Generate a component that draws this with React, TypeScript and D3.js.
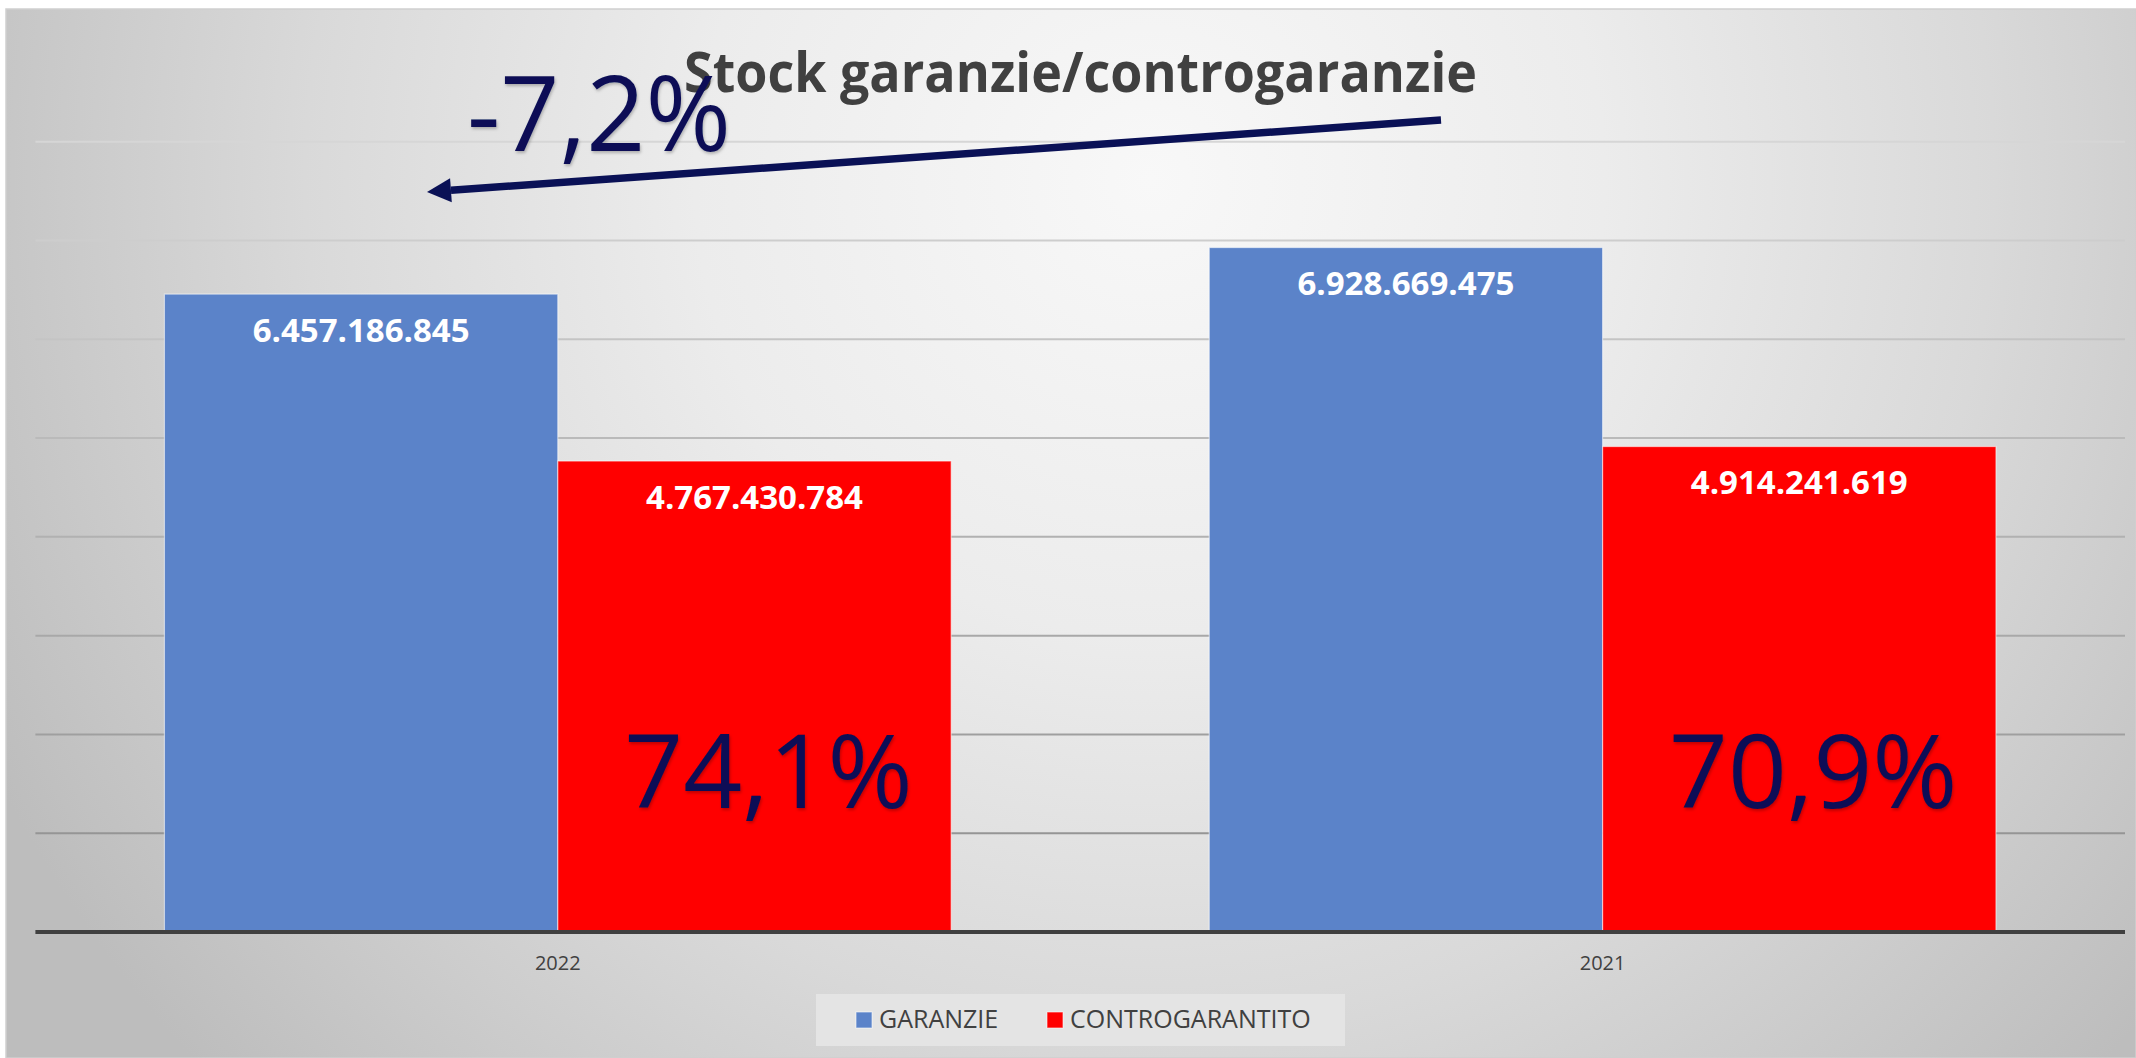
import React from "react";
import * as d3 from "d3";

const categories = ["2022", "2021"];
const seriesNames = ["GARANZIE", "CONTROGARANTITO"];
const garanzie = [6457186845, 6928669475];
const controgarantito = [4767430784, 4914241619];
const ratioLabels = ["74,1%", "70,9%"];
const changeLabel = "-7,2%";
const titleText = "Stock garanzie/controgaranzie";
const yMax = 8000000000;

const seriesColors = ["#5b83c9", "#ff0000"];
const NAVY = "#0a1156";
const GREY_TEXT = "#404040";

const W = 2136;
const H = 1058;
const plotLeft = 35.4;
const plotRight = 2125;
const yBase = 932;
const yTop = 141.7;

const itFormat = d3.formatLocale({
  decimal: ",",
  thousands: ".",
  grouping: [3],
  currency: ["€", ""],
}).format(",d");

export default function App() {
  const x0 = d3
    .scaleBand<string>()
    .domain(categories)
    .range([plotLeft, plotRight])
    .paddingInner(0.247)
    .paddingOuter(0.1235);
  const x1 = d3
    .scaleBand<string>()
    .domain(seriesNames)
    .range([0, x0.bandwidth()])
    .padding(0);
  const y = d3.scaleLinear().domain([0, yMax]).range([yBase, yTop]);
  const ticks = y.ticks(8).filter((t) => t > 0);

  const seriesValues = [garanzie, controgarantito];

  const gridColor = d3.scaleLinear<string>().domain([yTop, yBase]).range(["#d6d6d6", "#8c8c8c"]);

  // arrow geometry (annotation)
  const arrowStart: [number, number] = [1441, 120];
  const arrowTip: [number, number] = [427, 192];
  const dx = arrowTip[0] - arrowStart[0];
  const dy = arrowTip[1] - arrowStart[1];
  const len = Math.hypot(dx, dy);
  const ux = dx / len;
  const uy = dy / len;
  const headLen = 24;
  const headHalf = 12;
  const bx = arrowTip[0] - ux * headLen;
  const by = arrowTip[1] - uy * headLen;
  const nx = -uy;
  const ny = ux;
  const headPts = [
    [arrowTip[0], arrowTip[1]],
    [bx + nx * headHalf, by + ny * headHalf],
    [bx - nx * headHalf, by - ny * headHalf],
  ]
    .map((p) => p.join(","))
    .join(" ");

  return (
    <svg
      width={W}
      height={H}
      style={{ position: "absolute", left: 0, top: 0, display: "block" }}
      fontFamily="'Open Sans', sans-serif"
    >
      <defs>
        <radialGradient id="bg" gradientUnits="userSpaceOnUse" cx={1150} cy={180} r={1300}>
          <stop offset="0" stopColor="#f8f8f8" />
          <stop offset="0.35" stopColor="#ececec" />
          <stop offset="0.65" stopColor="#d9d9d9" />
          <stop offset="1" stopColor="#bdbdbd" />
        </radialGradient>
        <filter id="shadow" x="-10%" y="-10%" width="120%" height="130%">
          <feDropShadow dx="1" dy="2" stdDeviation="1.5" floodColor="#000" floodOpacity="0.25" />
        </filter>
      </defs>
      <rect x={0} y={0} width={W} height={H} fill="#ffffff" />
      <rect x={6} y={9} width={W - 6} height={H - 9} fill="url(#bg)" stroke="#cfcfcf" strokeWidth={1.5} />

      {/* gridlines */}
      {ticks.map((t) => (
        <line
          key={t}
          x1={plotLeft}
          x2={plotRight}
          y1={y(t)}
          y2={y(t)}
          stroke={gridColor(y(t))}
          strokeWidth={2}
        />
      ))}

      {/* bars */}
      {categories.map((c, i) => (
        <g key={c} transform={`translate(${x0(c)},0)`}>
          {seriesNames.map((s, j) => {
            const v = seriesValues[j][i];
            return (
              <rect
                key={s}
                x={x1(s)}
                y={y(v)}
                width={x1.bandwidth()}
                height={yBase - y(v)}
                fill={seriesColors[j]}
                stroke="rgba(255,255,255,0.55)"
                strokeWidth={1.2}
              />
            );
          })}
        </g>
      ))}

      {/* baseline */}
      <line x1={plotLeft} x2={plotRight} y1={yBase} y2={yBase} stroke={GREY_TEXT} strokeWidth={4} />

      {/* data labels */}
      {categories.map((c, i) =>
        seriesNames.map((s, j) => {
          const v = seriesValues[j][i];
          const cx = (x0(c) as number) + (x1(s) as number) + x1.bandwidth() / 2;
          return (
            <text
              key={c + s}
              x={cx}
              y={y(v) + 47.5}
              textAnchor="middle"
              fontSize={33}
              fontWeight={700}
              fill="#ffffff"
            >
              {itFormat(v)}
            </text>
          );
        })
      )}

      {/* ratio labels */}
      {categories.map((c, i) => {
        const s = seriesNames[1];
        const cx = (x0(c) as number) + (x1(s) as number) + x1.bandwidth() / 2 + 14;
        return (
          <text
            key={c + "r"}
            x={cx}
            y={y(0) - 124}
            textAnchor="middle"
            fontSize={103}
            fill={NAVY}
            filter="url(#shadow)"
          >
            {ratioLabels[i]}
          </text>
        );
      })}

      {/* category labels */}
      {categories.map((c) => (
        <text
          key={c + "lbl"}
          x={(x0(c) as number) + x0.bandwidth() / 2}
          y={y(0) + 38}
          textAnchor="middle"
          fontSize={20}
          fill={GREY_TEXT}
        >
          {c}
        </text>
      ))}

      {/* title */}
      <text
        x={1080.5}
        y={91.7}
        textAnchor="middle"
        fontSize={55}
        fontWeight={700}
        fill={GREY_TEXT}
        textLength={793}
        lengthAdjust="spacingAndGlyphs"
      >
        {titleText}
      </text>

      {/* change annotation */}
      <text
        x={467}
        y={150.7}
        fontSize={105}
        fill={NAVY}
        filter="url(#shadow)"
        textLength={264}
        lengthAdjust="spacingAndGlyphs"
      >
        {changeLabel}
      </text>
      <line
        x1={arrowStart[0]}
        y1={arrowStart[1]}
        x2={bx}
        y2={by}
        stroke={NAVY}
        strokeWidth={7.5}
      />
      <polygon points={headPts} fill={NAVY} />

      {/* legend */}
      <rect x={816} y={994} width={529} height={52} fill="#e4e4e4" />
      {seriesNames.map((s, j) => {
        const lx = j === 0 ? 856 : 1047;
        return (
          <g key={s + "leg"}>
            <rect x={lx} y={1012} width={16} height={16} fill={seriesColors[j]} stroke="rgba(255,255,255,0.6)" strokeWidth={1} />
            <text x={lx + 23} y={1028.3} fontSize={25} fill={GREY_TEXT}>
              {s}
            </text>
          </g>
        );
      })}
    </svg>
  );
}
